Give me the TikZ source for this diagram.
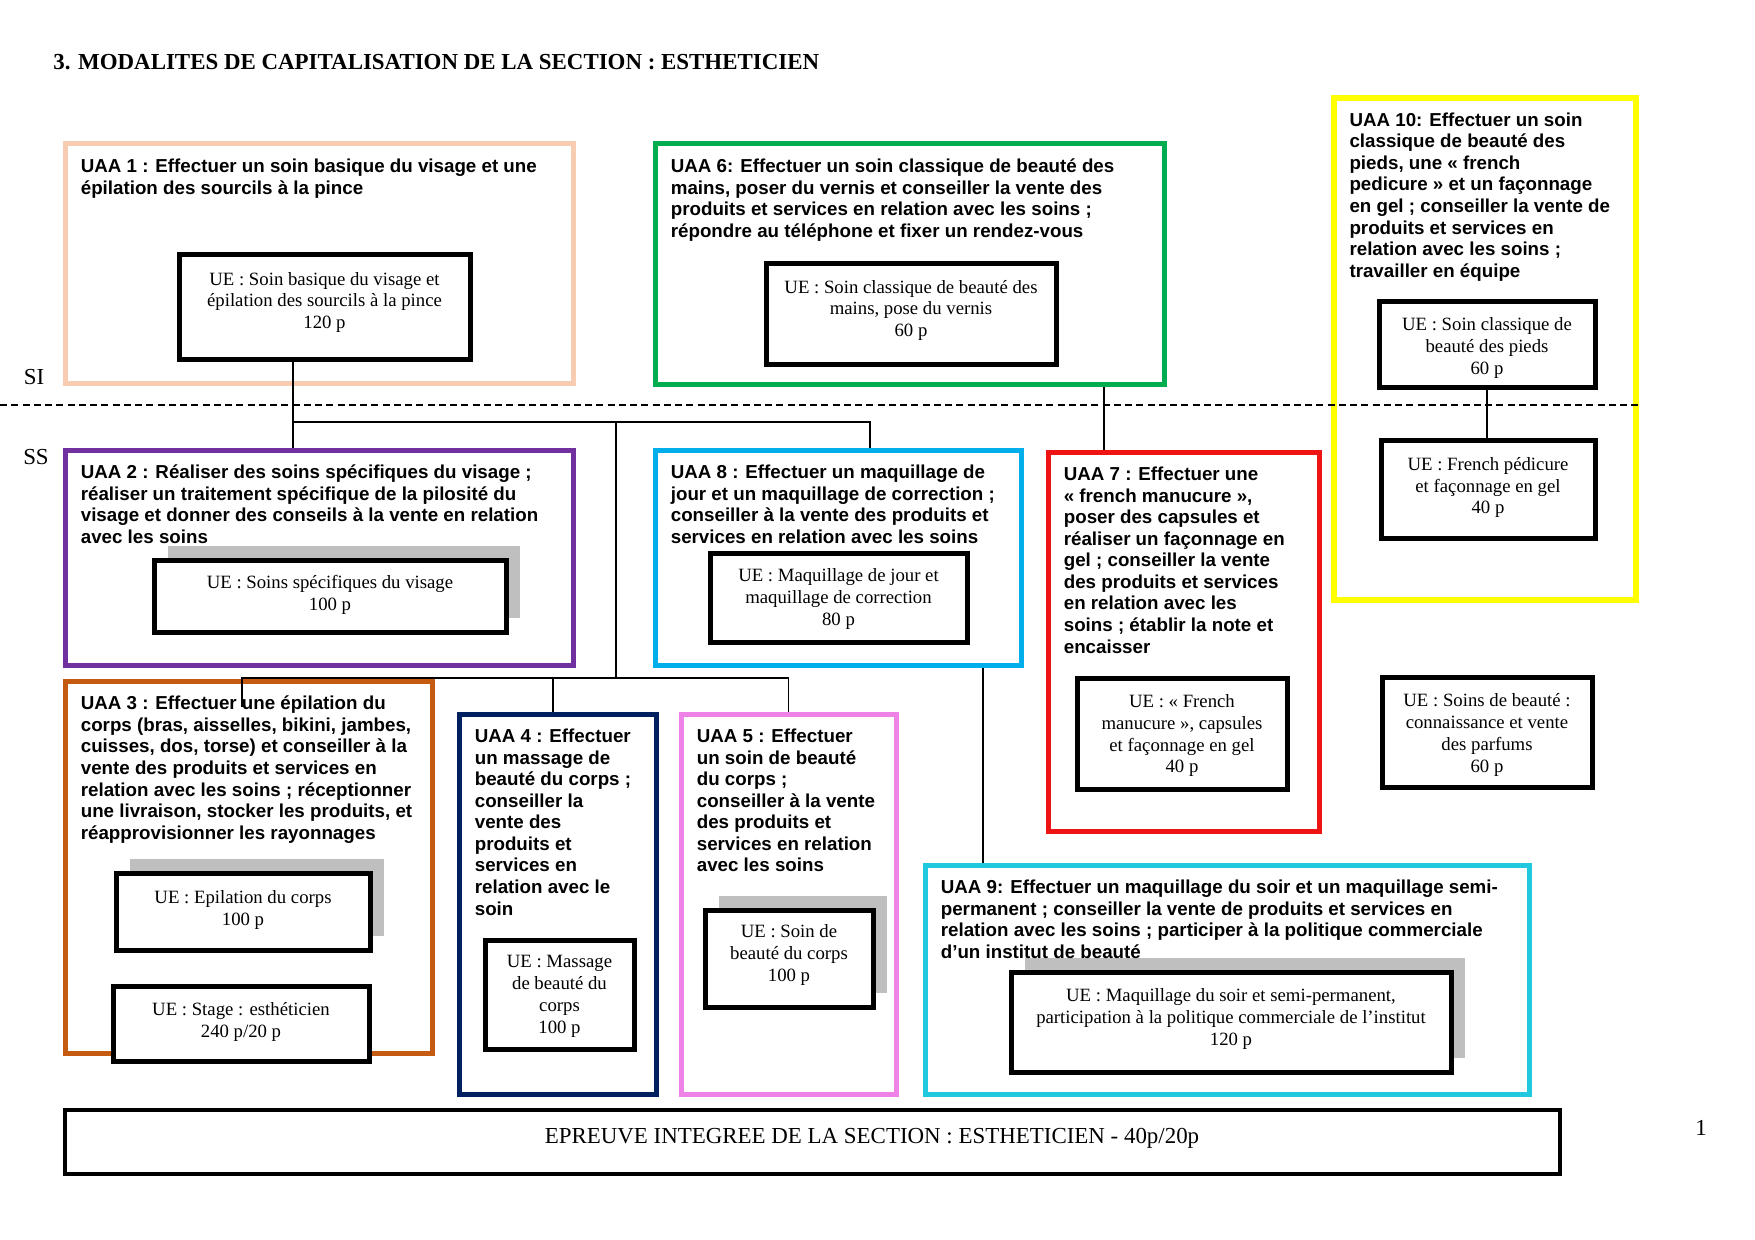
\documentclass[tikz,border=0pt]{standalone}
\usepackage{fontspec}
\setmainfont{Liberation Serif}
\newfontfamily\arialfont{Liberation Sans}
\usepackage{xcolor}
\definecolor{uaapeach}{RGB}{247,204,176}
\definecolor{uaagreen}{RGB}{0,172,80}
\definecolor{uaayellow}{RGB}{255,255,0}
\definecolor{uaapurple}{RGB}{112,48,160}
\definecolor{uaasky}{RGB}{0,174,236}
\definecolor{uaared}{RGB}{238,20,20}
\definecolor{uaarust}{RGB}{197,90,17}
\definecolor{uaanavy}{RGB}{0,32,96}
\definecolor{uaapink}{RGB}{238,130,230}
\definecolor{uaacyan}{RGB}{32,200,222}
\usetikzlibrary{fit, shadows}

\begin{document}
\begin{tikzpicture}[x=0.48pt, y=-0.48pt,
  uaa/.style={draw=#1, line width=2.4pt, inner sep=0pt},
  uaatxt/.style={anchor=north west, inner sep=0pt, align=left,
    font=\arialfont\bfseries\fontsize{9}{10.35}\selectfont},
  ue/.style={draw, line width=2.4pt, fill=white, inner sep=0pt},
  ueshadow/.style={ue, drop shadow={shadow xshift=6.5pt, shadow yshift=6.5pt, fill=black!25, opacity=1}},
  uetxt/.style={inner sep=0pt, align=center, font=\fontsize{9}{10.5}\selectfont},
  lvl/.style={font=\fontsize{11}{13}\selectfont, inner sep=0pt},
  link/.style={line width=0.6pt},
  sep/.style={line width=0.6pt, dash pattern=on 3.4pt off 2pt}]
  \useasboundingbox (0,0) rectangle (1755,1240);

  % Title and levels
  \node[lvl, anchor=west, font=\bfseries\fontsize{11}{13}\selectfont] (title) at (53,62)
    {3. MODALITES DE CAPITALISATION DE LA SECTION : ESTHETICIEN};
  \node[lvl] (si) at (34,377) {SI};
  \node[lvl] (ss) at (36,457) {SS};
  \node[lvl] (pnum) at (1701,1128) {1};

  % --- UAA 1 ---
  \node[uaa=uaapeach, fit={(65,144) (573,383)}] (uaa1) {};
  \node[ue, fit={(179,255) (470,359)}] (ue1) {};
  \node[uetxt] (ue1t) at ([yshift=2.2pt]ue1.center) {UE : Soin basique du visage et\\épilation des sourcils à la pince\\120 p};
  \node[uaatxt] (uaa1t) at ([xshift=8.6pt,yshift=-8.2pt]uaa1.north west)
    {UAA 1 : Effectuer un soin basique du visage et une\\épilation des sourcils à la pince};

  % --- UAA 6 ---
  \node[uaa=uaagreen, fit={(655,144) (1164,384)}] (uaa6) {};
  \node[ue, fit={(766,264) (1056,364)}] (ue6) {};
  \node[uetxt] (ue6t) at ([yshift=1.7pt]ue6.center) {UE : Soin classique de beauté des\\mains, pose du vernis\\60 p};
  \node[uaatxt] (uaa6t) at ([xshift=8.6pt,yshift=-8.2pt]uaa6.north west)
    {UAA 6: Effectuer un soin classique de beauté des\\mains, poser du vernis et conseiller la vente des\\produits et services en relation avec les soins ;\\répondre au téléphone et fixer un rendez-vous};

  % --- UAA 10 ---
  \node[uaa=uaayellow, line width=2.7pt, fit={(1334,98) (1636,600)}] (uaa10) {};
  \node[ue, fit={(1379,301) (1595,387)}] (ue10a) {};
  \node[uetxt] (ue10at) at ([yshift=-1.8pt]ue10a.center) {UE : Soin classique de\\beauté des pieds\\60 p};
  \node[ue, fit={(1381,440) (1595,538)}] (ue10b) {};
  \node[uetxt] (ue10bt) at ([yshift=0.7pt]ue10b.center) {UE : French pédicure\\et façonnage en gel\\40 p};
  \node[uaatxt] (uaa10t) at ([xshift=8.6pt,yshift=-8.2pt]uaa10.north west)
    {UAA 10: Effectuer un soin\\classique de beauté des\\pieds, une « french\\pedicure » et un façonnage\\en gel ; conseiller la vente de\\produits et services en\\relation avec les soins ;\\travailler en équipe};

  % --- UAA 2 ---
  \node[uaa=uaapurple, fit={(65,450) (573,665)}] (uaa2) {};
  \node[ueshadow, fit={(154,560) (506,632)}] (ue2) {};
  \node[uetxt] (ue2t) at ([yshift=0.5pt]ue2.center) {UE : Soins spécifiques du visage\\100 p};
  \node[uaatxt] (uaa2t) at ([xshift=8.6pt,yshift=-8.2pt]uaa2.north west)
    {UAA 2 : Réaliser des soins spécifiques du visage ;\\réaliser un traitement spécifique de la pilosité du\\visage et donner des conseils à la vente en relation\\avec les soins};

  % --- UAA 8 ---
  \node[uaa=uaasky, fit={(655,450) (1021,665)}] (uaa8) {};
  \node[ue, fit={(710,553) (967,642)}] (ue8) {};
  \node[uetxt] (ue8t) at ([yshift=-0.6pt]ue8.center) {UE : Maquillage de jour et\\maquillage de correction\\80 p};
  \node[uaatxt] (uaa8t) at ([xshift=8.6pt,yshift=-8.2pt]uaa8.north west)
    {UAA 8 : Effectuer un maquillage de\\jour et un maquillage de correction ;\\conseiller à la vente des produits et\\services en relation avec les soins};

  % --- UAA 7 ---
  \node[uaa=uaared, fit={(1048,452) (1319,831)}] (uaa7) {};
  \node[ue, fit={(1077,678) (1287,789)}] (ue7) {};
  \node[uetxt] (ue7t) at ([yshift=-1pt]ue7.center) {UE : « French\\manucure », capsules\\et façonnage en gel\\40 p};
  \node[uaatxt] (uaa7t) at ([xshift=8.6pt,yshift=-8.2pt]uaa7.north west)
    {UAA 7 : Effectuer une\\« french manucure »,\\poser des capsules et\\réaliser un façonnage en\\gel ; conseiller la vente\\des produits et services\\en relation avec les\\soins ; établir la note et\\encaisser};

  % --- UE parfums ---
  \node[ue, fit={(1382,677) (1592,787)}] (ueparf) {};
  \node[uetxt] (ueparft) at ([yshift=-1.3pt]ueparf.center) {UE : Soins de beauté :\\connaissance et vente\\des parfums\\60 p};

  % --- UAA 3 ---
  \node[uaa=uaarust, fit={(65,681) (432,1053)}] (uaa3) {};
  \node[ueshadow, fit={(116,873) (370,950)}] (ue3a) {};
  \node[uetxt] (ue3at) at ([yshift=0.7pt]ue3a.center) {UE : Epilation du corps\\100 p};
  \node[ue, fit={(113,986) (369,1061)}] (ue3b) {};
  \node[uetxt] (ue3bt) at ([yshift=0.7pt]ue3b.center) {UE : Stage : esthéticien\\240 p/20 p};
  \node[uaatxt] (uaa3t) at ([xshift=8.6pt,yshift=-8.2pt]uaa3.north west)
    {UAA 3 : Effectuer une épilation du\\corps (bras, aisselles, bikini, jambes,\\cuisses, dos, torse) et conseiller à la\\vente des produits et services en\\relation avec les soins ; réceptionner\\une livraison, stocker les produits, et\\réapprovisionner les rayonnages};

  % --- UAA 4 ---
  \node[uaa=uaanavy, fit={(459,714) (656,1094)}] (uaa4) {};
  \node[ue, fit={(485,940) (634,1049)}] (ue4) {};
  \node[uetxt] (ue4t) at ([yshift=-1pt]ue4.center) {UE : Massage\\de beauté du\\corps\\100 p};
  \node[uaatxt] (uaa4t) at ([xshift=8.6pt,yshift=-8.2pt]uaa4.north west)
    {UAA 4 : Effectuer\\un massage de\\beauté du corps ;\\conseiller la\\vente des\\produits et\\services en\\relation avec le\\soin};

  % --- UAA 5 ---
  \node[uaa=uaapink, fit={(681,714) (896,1094)}] (uaa5) {};
  \node[ueshadow, fit={(705,910) (873,1007)}] (ue5) {};
  \node[uetxt] (ue5t) at ([yshift=1.6pt]ue5.center) {UE : Soin de\\beauté du corps\\100 p};
  \node[uaatxt] (uaa5t) at ([xshift=8.6pt,yshift=-8.2pt]uaa5.north west)
    {UAA 5 : Effectuer\\un soin de beauté\\du corps ;\\conseiller à la vente\\des produits et\\services en relation\\avec les soins};

  % --- UAA 9 ---
  \node[uaa=uaacyan, fit={(925,865) (1529,1094)}] (uaa9) {};
  \node[ueshadow, fit={(1011,972) (1451,1072)}] (ue9) {};
  \node[uetxt] (ue9t) at ([yshift=1.6pt]ue9.center) {UE : Maquillage du soir et semi-permanent,\\participation à la politique commerciale de l’institut\\120 p};
  \node[uaatxt] (uaa9t) at ([xshift=8.6pt,yshift=-8.2pt]uaa9.north west)
    {UAA 9: Effectuer un maquillage du soir et un maquillage semi-\\permanent ; conseiller la vente de produits et services en\\relation avec les soins ; participer à la politique commerciale\\d’un institut de beauté};

  % --- Epreuve integree ---
  \node[draw, line width=2pt, inner sep=0pt, fit={(65,1110) (1560,1174)}] (epr) {};
  \node[lvl] (eprt) at (872,1138) {EPREUVE INTEGREE DE LA SECTION : ESTHETICIEN - 40p/20p};

  % SI / SS separation
  \coordinate (dashl) at (0,405);
  \draw[sep] (dashl) -- (dashl -| uaa10.east);

  % links
  \coordinate (up) at (293,422);
  \coordinate (up8) at (870,422);
  \coordinate (mid) at (616,422);
  \coordinate (low) at (616,678);
  \coordinate (low3) at (242,678);
  \coordinate (stub3) at (242,707);
  \coordinate (k4) at (553,678);
  \coordinate (k7) at (1104,0);
  \coordinate (k9) at (983,0);
  \draw[link] (ue1.south -| up) -- (uaa2.north -| up);
  \draw[link] (up) -- (up8) -- (uaa8.north -| up8);
  \draw[link] (mid) -- (low);
  \draw[link] (stub3) -- (low3) -- (low -| uaa5.north) -- (uaa5.north);
  \draw[link] (k4) -- (uaa4.north -| k4);
  \draw[link] (uaa6.south -| k7) -- (uaa7.north -| k7);
  \draw[link] (ue10a.south) -- (ue10a.south |- ue10b.north);
  \draw[link] (uaa8.south -| k9) -- (uaa9.north -| k9);
\end{tikzpicture}
\end{document}
